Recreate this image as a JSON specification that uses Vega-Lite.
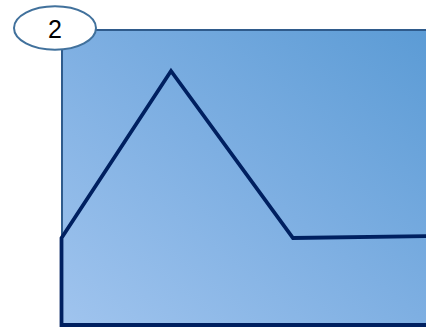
{
  "$schema": "https://vega.github.io/schema/vega-lite/v6.json",
  "width": 426,
  "height": 327,
  "autosize": "none",
  "padding": 0,
  "background": "white",
  "config": {"view": {"stroke": null}},
  "datasets": {
    "panel": [{"x1": 62, "x2": 430, "y1": 30, "y2": 325}],
    "path": [
      {"i": 0, "x": 430, "y": 325},
      {"i": 1, "x": 61.5, "y": 325},
      {"i": 2, "x": 61.5, "y": 238},
      {"i": 3, "x": 171, "y": 71},
      {"i": 4, "x": 293, "y": 238},
      {"i": 5, "x": 430, "y": 236}
    ],
    "badge": [{"x": 55, "y": 28, "label": "2"}]
  },
  "layer": [
    {
      "data": {"name": "panel"},
      "mark": {
        "type": "rect",
        "clip": true,
        "fill": {
          "gradient": "linear",
          "x1": 0, "y1": 1, "x2": 1, "y2": 0,
          "stops": [
            {"offset": 0, "color": "#a0c4ee"},
            {"offset": 0.5, "color": "#7eafe2"},
            {"offset": 1, "color": "#5b9bd5"}
          ]
        },
        "stroke": "#2f5b8c",
        "strokeWidth": 2
      },
      "encoding": {
        "x": {"field": "x1", "type": "quantitative", "scale": {"domain": [0, 426], "nice": false, "zero": false}, "axis": null},
        "x2": {"field": "x2"},
        "y": {"field": "y1", "type": "quantitative", "scale": {"domain": [0, 327], "nice": false, "zero": false, "reverse": true}, "axis": null},
        "y2": {"field": "y2"}
      }
    },
    {
      "data": {"name": "path"},
      "mark": {"type": "line", "color": "#002060", "strokeWidth": 3.8, "strokeJoin": "miter", "clip": true},
      "encoding": {
        "x": {"field": "x", "type": "quantitative", "scale": {"domain": [0, 426], "nice": false, "zero": false}, "axis": null},
        "y": {"field": "y", "type": "quantitative", "scale": {"domain": [0, 327], "nice": false, "zero": false, "reverse": true}, "axis": null},
        "order": {"field": "i"}
      }
    },
    {
      "data": {"name": "badge"},
      "mark": {
        "type": "point",
        "shape": "M-1,0A1,0.53,0,1,1,1,0A1,0.53,0,1,1,-1,0Z",
        "size": 6724,
        "filled": true,
        "fill": "white",
        "stroke": "#41719c",
        "strokeWidth": 2,
        "opacity": 1
      },
      "encoding": {
        "x": {"field": "x", "type": "quantitative", "scale": {"domain": [0, 426], "nice": false, "zero": false}, "axis": null},
        "y": {"field": "y", "type": "quantitative", "scale": {"domain": [0, 327], "nice": false, "zero": false, "reverse": true}, "axis": null}
      }
    },
    {
      "data": {"name": "badge"},
      "mark": {"type": "text", "font": "Liberation Sans", "fontSize": 25, "color": "black", "baseline": "middle", "align": "center", "dy": 2},
      "encoding": {
        "x": {"field": "x", "type": "quantitative", "scale": {"domain": [0, 426], "nice": false, "zero": false}, "axis": null},
        "y": {"field": "y", "type": "quantitative", "scale": {"domain": [0, 327], "nice": false, "zero": false, "reverse": true}, "axis": null},
        "text": {"field": "label"}
      }
    }
  ]
}
